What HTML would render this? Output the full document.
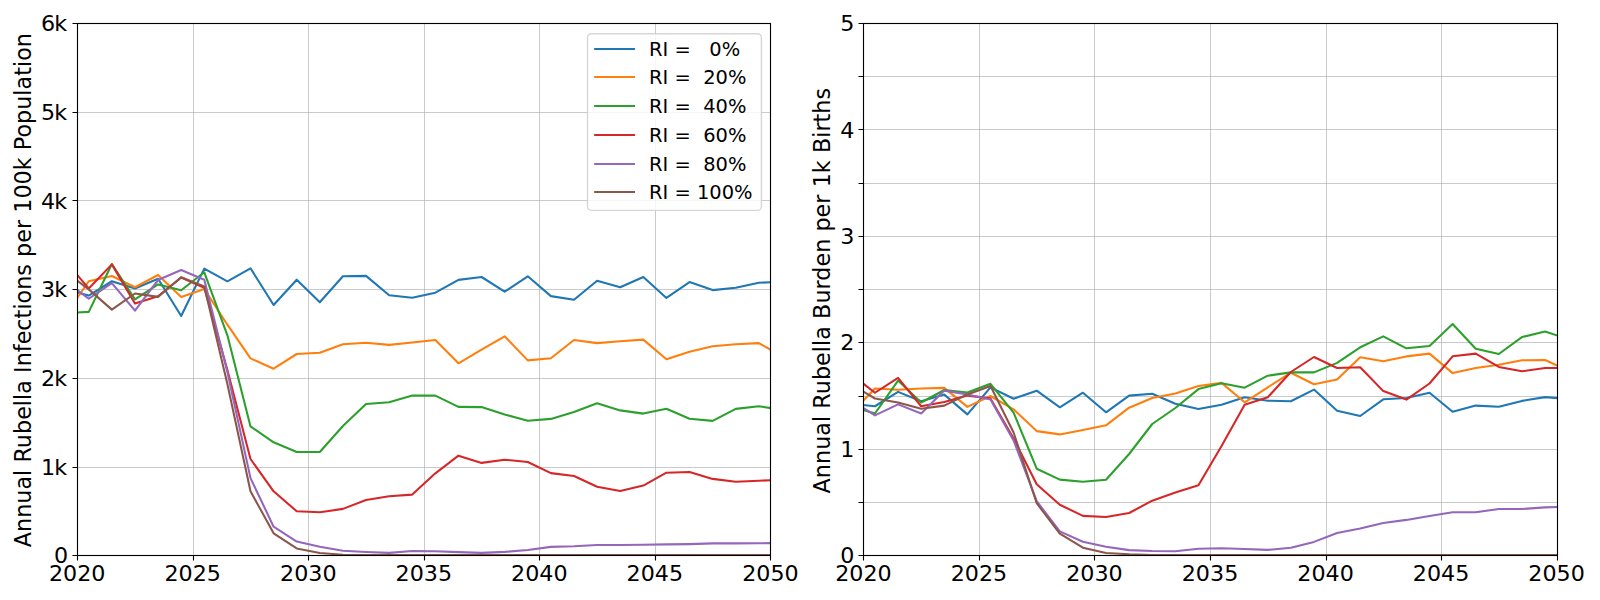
<!DOCTYPE html>
<html lang="en">
<head>
<meta charset="utf-8">
<title>Annual Rubella Infections and Burden</title>
<style>
html,body{margin:0;padding:0;background:#fff;}
body{width:1600px;height:600px;overflow:hidden;}
svg{display:block;font-family:"DejaVu Sans", "Liberation Sans", sans-serif;}
text{font-family:"DejaVu Sans", "Liberation Sans", sans-serif;}
</style>
</head>
<body>
<svg width="1600" height="600" viewBox="0 0 1600 600">
<defs>
<clipPath id="c0"><rect x="77.5" y="23.5" width="693" height="532"/></clipPath>
<clipPath id="c1"><rect x="863.5" y="23.5" width="694" height="532"/></clipPath>
</defs>
<rect width="1600" height="600" fill="#ffffff"/>
<g>
<path d="M77.5 23.5V555.5M193.5 23.5V555.5M308.5 23.5V555.5M424.5 23.5V555.5M539.5 23.5V555.5M655.5 23.5V555.5M770.5 23.5V555.5M77.5 555.5H770.5M77.5 467.5H770.5M77.5 378.5H770.5M77.5 289.5H770.5M77.5 200.5H770.5M77.5 112.5H770.5M77.5 23.5H770.5" stroke="#b0b0b0" stroke-width="0.67" fill="none"/>
<g clip-path="url(#c0)" fill="none" stroke-width="2.08" stroke-linejoin="round" stroke-linecap="butt">
<polyline points="65.65,289.4 88.75,295.6 111.86,281.25 134.97,288.5 158.07,278.75 181.18,316 204.29,268.6 227.39,281.3 250.5,268.3 273.61,305 296.71,279.7 319.82,302.3 342.93,276.3 366.03,275.9 389.14,295.3 412.25,297.7 435.35,292.7 458.46,279.9 481.57,277 504.67,291.7 527.78,276.3 550.89,296.1 573.99,299.7 597.1,280.7 620.21,287.3 643.31,277 666.42,297.9 689.53,282.1 712.63,290.1 735.74,287.7 758.85,282.7 781.95,281.9" stroke="#1f77b4"/>
<polyline points="65.65,314.75 88.75,281.25 111.86,276 134.97,287.25 158.07,275 181.18,296.9 204.29,289 227.39,324.7 250.5,358.4 273.61,368.7 296.71,354 319.82,352.7 342.93,344.3 366.03,342.7 389.14,344.9 412.25,342.5 435.35,340 458.46,363.3 481.57,349.6 504.67,336.3 527.78,360.4 550.89,358.3 573.99,340 597.1,343.1 620.21,341.3 643.31,339.6 666.42,359.3 689.53,351.7 712.63,346.3 735.74,344.3 758.85,343.1 781.95,356.1" stroke="#ff7f0e"/>
<polyline points="65.65,313.1 88.75,311.9 111.86,264 134.97,299.4 158.07,284.4 181.18,290.25 204.29,272.3 227.39,335.3 250.5,426.4 273.61,442.3 296.71,452 319.82,452 342.93,426 366.03,404 389.14,402.3 412.25,395.6 435.35,395.6 458.46,406.9 481.57,407.1 504.67,414.4 527.78,420.7 550.89,418.9 573.99,412 597.1,403.3 620.21,410.4 643.31,413.6 666.42,408.7 689.53,418.7 712.63,420.9 735.74,408.9 758.85,406.3 781.95,409.7" stroke="#2ca02c"/>
<polyline points="65.65,261.5 88.75,288.5 111.86,264.4 134.97,303.5 158.07,296.25 181.18,277.5 204.29,287.7 227.39,370 250.5,459 273.61,491.3 296.71,511.3 319.82,512.3 342.93,508.9 366.03,500 389.14,496.2 412.25,494.6 435.35,473.3 458.46,455.7 481.57,462.9 504.67,459.7 527.78,462 550.89,473.1 573.99,476 597.1,486.7 620.21,491.1 643.31,485.6 666.42,472.7 689.53,472 712.63,478.9 735.74,481.7 758.85,480.7 781.95,479.9" stroke="#d62728"/>
<polyline points="65.65,281.25 88.75,298.75 111.86,283.1 134.97,310.6 158.07,280 181.18,270 204.29,279.8 227.39,372 250.5,478.1 273.61,526.7 296.71,541.6 319.82,546.7 342.93,550.7 366.03,552 389.14,552.9 412.25,551 435.35,551.25 458.46,552.1 481.57,552.9 504.67,551.9 527.78,550 550.89,546.9 573.99,546.3 597.1,545 620.21,545 643.31,544.75 666.42,544.4 689.53,544.1 712.63,543.4 735.74,543.4 758.85,543.25 781.95,542.95" stroke="#9467bd"/>
<polyline points="65.65,271.8 88.75,289.4 111.86,309.6 134.97,293.5 158.07,296.9 181.18,277.25 204.29,286.4 227.39,384 250.5,491.25 273.61,533.3 296.71,548.4 319.82,553 342.93,554.7 366.03,555 389.14,555 412.25,555 435.35,555 458.46,555 481.57,555 504.67,555 527.78,555 550.89,555 573.99,555 597.1,555 620.21,555 643.31,555 666.42,555 689.53,555 712.63,555 735.74,555 758.85,555 781.95,555" stroke="#8c564b"/>
</g>
<path d="M77.5 555.5v5M193.5 555.5v5M308.5 555.5v5M424.5 555.5v5M539.5 555.5v5M655.5 555.5v5M770.5 555.5v5M77.5 555.5h-5M77.5 467.5h-5M77.5 378.5h-5M77.5 289.5h-5M77.5 200.5h-5M77.5 112.5h-5M77.5 23.5h-5" stroke="#000" stroke-width="1.11" fill="none"/>
<rect x="77.5" y="23.5" width="693" height="532" fill="none" stroke="#000" stroke-width="1.11"/>
<g font-size="22.22" fill="#000">
<text transform="translate(77.2 581) scale(1 0.965)" text-anchor="middle">2020</text>
<text transform="translate(192.73 581) scale(1 0.965)" text-anchor="middle">2025</text>
<text transform="translate(308.27 581) scale(1 0.965)" text-anchor="middle">2030</text>
<text transform="translate(423.8 581) scale(1 0.965)" text-anchor="middle">2035</text>
<text transform="translate(539.33 581) scale(1 0.965)" text-anchor="middle">2040</text>
<text transform="translate(654.87 581) scale(1 0.965)" text-anchor="middle">2045</text>
<text transform="translate(770.4 581) scale(1 0.965)" text-anchor="middle">2050</text>
<text transform="translate(68.08 563) scale(1 0.965)" text-anchor="end">0</text>
<text transform="translate(67.08 475) scale(1 0.965)" text-anchor="end">1<tspan dx="-1">k</tspan></text>
<text transform="translate(67.08 386) scale(1 0.965)" text-anchor="end">2<tspan dx="-1">k</tspan></text>
<text transform="translate(67.08 297) scale(1 0.965)" text-anchor="end">3<tspan dx="-1">k</tspan></text>
<text transform="translate(67.08 209) scale(1 0.965)" text-anchor="end">4<tspan dx="-1">k</tspan></text>
<text transform="translate(67.08 120) scale(1 0.965)" text-anchor="end">5<tspan dx="-1">k</tspan></text>
<text transform="translate(67.08 31) scale(1 0.965)" text-anchor="end">6<tspan dx="-1">k</tspan></text>
</g>
<text transform="translate(30.5 290.15) rotate(-90)" font-size="22.22" text-anchor="middle" textLength="514.2" lengthAdjust="spacing" fill="#000">Annual Rubella Infections per 100k Population</text>
</g>
<g>
<path d="M863.5 23.5V555.5M979.5 23.5V555.5M1094.5 23.5V555.5M1210.5 23.5V555.5M1326.5 23.5V555.5M1441.5 23.5V555.5M1557.5 23.5V555.5M863.5 555.5H1557.5M863.5 502.5H1557.5M863.5 449.5H1557.5M863.5 396.5H1557.5M863.5 342.5H1557.5M863.5 289.5H1557.5M863.5 236.5H1557.5M863.5 183.5H1557.5M863.5 129.5H1557.5M863.5 76.5H1557.5M863.5 23.5H1557.5" stroke="#b0b0b0" stroke-width="0.67" fill="none"/>
<g clip-path="url(#c1)" fill="none" stroke-width="2.08" stroke-linejoin="round" stroke-linecap="butt">
<polyline points="851.85,403.75 874.95,406.25 898.06,391.9 921.17,401.25 944.27,394.6 967.38,414.4 990.49,387.4 1013.59,398.7 1036.7,390.7 1059.81,407.3 1082.91,392.7 1106.02,412.3 1129.13,395.6 1152.23,393.7 1175.34,403.8 1198.45,409.1 1221.55,404.7 1244.66,397.3 1267.77,400.7 1290.87,401.3 1313.98,389.6 1337.09,410.7 1360.19,416 1383.3,399.3 1406.41,398 1429.51,392.7 1452.62,411.7 1475.73,405.6 1498.83,406.7 1521.94,400.9 1545.05,397.1 1568.15,398.9" stroke="#1f77b4"/>
<polyline points="851.85,412.7 874.95,388.5 898.06,389.75 921.17,388.5 944.27,387.9 967.38,406.9 990.49,396 1013.59,409.3 1036.7,431.1 1059.81,434.4 1082.91,430 1106.02,425.3 1129.13,407.7 1152.23,398 1175.34,393.6 1198.45,386 1221.55,382.9 1244.66,402.3 1267.77,387.3 1290.87,372.7 1313.98,384.3 1337.09,379.6 1360.19,357.3 1383.3,361.3 1406.41,356.4 1429.51,353.6 1452.62,373.1 1475.73,368 1498.83,364.7 1521.94,360.3 1545.05,360 1568.15,370.6" stroke="#ff7f0e"/>
<polyline points="851.85,406.5 874.95,413.5 898.06,380.6 921.17,402.5 944.27,390 967.38,392.5 990.49,383.8 1013.59,412.7 1036.7,468.7 1059.81,479.6 1082.91,481.7 1106.02,479.7 1129.13,454 1152.23,424 1175.34,408 1198.45,389.1 1221.55,383.3 1244.66,387.7 1267.77,375.7 1290.87,372.4 1313.98,372.4 1337.09,362.9 1360.19,347.3 1383.3,336.4 1406.41,348.3 1429.51,346 1452.62,324 1475.73,348.7 1498.83,354 1521.94,337.1 1545.05,331.6 1568.15,339" stroke="#2ca02c"/>
<polyline points="851.85,374.75 874.95,392.75 898.06,377.9 921.17,406.25 944.27,401.9 967.38,395.6 990.49,398.4 1013.59,438.5 1036.7,484.3 1059.81,504.7 1082.91,515.9 1106.02,517 1129.13,513 1152.23,500.7 1175.34,492.5 1198.45,485.3 1221.55,446 1244.66,404.7 1267.77,397.3 1290.87,372 1313.98,357 1337.09,368 1360.19,367.2 1383.3,391.1 1406.41,399.6 1429.51,383.5 1452.62,356.3 1475.73,353.6 1498.83,366.9 1521.94,371.3 1545.05,368 1568.15,368" stroke="#d62728"/>
<polyline points="851.85,400.8 874.95,415.4 898.06,404.4 921.17,413.5 944.27,390.6 967.38,394.4 990.49,399.5 1013.59,440.5 1036.7,501.2 1059.81,531.4 1082.91,541.7 1106.02,546.7 1129.13,550.1 1152.23,551 1175.34,551.3 1198.45,548.7 1221.55,548.3 1244.66,549 1267.77,549.9 1290.87,547.7 1313.98,541.9 1337.09,533 1360.19,528.6 1383.3,523 1406.41,519.9 1429.51,515.9 1452.62,512.3 1475.73,512.3 1498.83,509 1521.94,509 1545.05,507.4 1568.15,506.6" stroke="#9467bd"/>
<polyline points="851.85,384.7 874.95,398.5 898.06,402.5 921.17,408.75 944.27,405.6 967.38,394.4 990.49,386 1013.59,432.5 1036.7,503.2 1059.81,533.7 1082.91,547.7 1106.02,553 1129.13,554.3 1152.23,555 1175.34,555 1198.45,555 1221.55,555 1244.66,555 1267.77,555 1290.87,555 1313.98,555 1337.09,555 1360.19,555 1383.3,555 1406.41,555 1429.51,555 1452.62,555 1475.73,555 1498.83,555 1521.94,555 1545.05,555 1568.15,555" stroke="#8c564b"/>
</g>
<path d="M863.5 555.5v5M979.5 555.5v5M1094.5 555.5v5M1210.5 555.5v5M1326.5 555.5v5M1441.5 555.5v5M1557.5 555.5v5M863.5 555.5h-5M863.5 502.5h-5M863.5 449.5h-5M863.5 396.5h-5M863.5 342.5h-5M863.5 289.5h-5M863.5 236.5h-5M863.5 183.5h-5M863.5 129.5h-5M863.5 76.5h-5M863.5 23.5h-5" stroke="#000" stroke-width="1.11" fill="none"/>
<rect x="863.5" y="23.5" width="694" height="532" fill="none" stroke="#000" stroke-width="1.11"/>
<g font-size="22.22" fill="#000">
<text transform="translate(863.4 581) scale(1 0.965)" text-anchor="middle">2020</text>
<text transform="translate(978.93 581) scale(1 0.965)" text-anchor="middle">2025</text>
<text transform="translate(1094.47 581) scale(1 0.965)" text-anchor="middle">2030</text>
<text transform="translate(1210 581) scale(1 0.965)" text-anchor="middle">2035</text>
<text transform="translate(1325.53 581) scale(1 0.965)" text-anchor="middle">2040</text>
<text transform="translate(1441.07 581) scale(1 0.965)" text-anchor="middle">2045</text>
<text transform="translate(1556.6 581) scale(1 0.965)" text-anchor="middle">2050</text>
<text transform="translate(854.28 563) scale(1 0.965)" text-anchor="end">0</text>
<text transform="translate(854.28 457) scale(1 0.965)" text-anchor="end">1</text>
<text transform="translate(854.28 350) scale(1 0.965)" text-anchor="end">2</text>
<text transform="translate(854.28 244) scale(1 0.965)" text-anchor="end">3</text>
<text transform="translate(854.28 138) scale(1 0.965)" text-anchor="end">4</text>
<text transform="translate(854.28 31) scale(1 0.965)" text-anchor="end">5</text>
</g>
<text transform="translate(830.4 290.65) rotate(-90)" font-size="22.22" text-anchor="middle" textLength="405.5" lengthAdjust="spacing" fill="#000">Annual Rubella Burden per 1k Births</text>
</g>
<g>
<rect x="587.5" y="33.7" width="173.9" height="176.7" rx="3.9" ry="3.9" fill="#ffffff" fill-opacity="0.8" stroke="#cccccc" stroke-opacity="0.8" stroke-width="1.39"/>
<path d="M595.2 49H634" stroke="#1f77b4" stroke-width="2.08" stroke-linecap="square" fill="none"/>
<text x="649.1" y="56" font-size="19.44" fill="#000" xml:space="preserve" style="white-space:pre">RI =   0%</text>
<path d="M595.2 77H634" stroke="#ff7f0e" stroke-width="2.08" stroke-linecap="square" fill="none"/>
<text x="649.1" y="84" font-size="19.44" fill="#000" xml:space="preserve" style="white-space:pre">RI =  20%</text>
<path d="M595.2 106H634" stroke="#2ca02c" stroke-width="2.08" stroke-linecap="square" fill="none"/>
<text x="649.1" y="113" font-size="19.44" fill="#000" xml:space="preserve" style="white-space:pre">RI =  40%</text>
<path d="M595.2 135H634" stroke="#d62728" stroke-width="2.08" stroke-linecap="square" fill="none"/>
<text x="649.1" y="142" font-size="19.44" fill="#000" xml:space="preserve" style="white-space:pre">RI =  60%</text>
<path d="M595.2 164H634" stroke="#9467bd" stroke-width="2.08" stroke-linecap="square" fill="none"/>
<text x="649.1" y="171" font-size="19.44" fill="#000" xml:space="preserve" style="white-space:pre">RI =  80%</text>
<path d="M595.2 192H634" stroke="#8c564b" stroke-width="2.08" stroke-linecap="square" fill="none"/>
<text x="649.1" y="199" font-size="19.44" fill="#000" xml:space="preserve" style="white-space:pre">RI = 100%</text>
</g>
</svg>
</body>
</html>
